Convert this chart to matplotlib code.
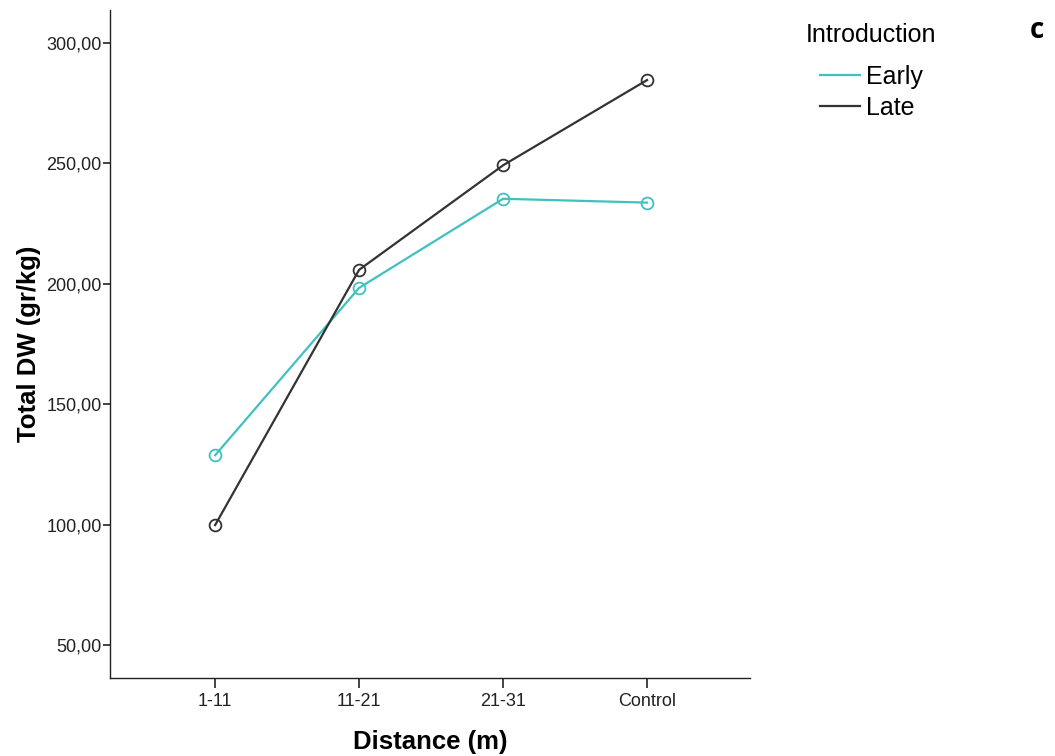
import matplotlib.pyplot as plt

plt.rcParams['font.family'] = ['Liberation Sans', 'DejaVu Sans']

# data
distance = ['1-11', '11-21', '21-31', 'Control']
early = [128.8, 198.3, 235.3, 233.7]
late = [99.8, 205.8, 249.2, 284.6]
y_ticks = [50, 100, 150, 200, 250, 300]

teal = '#40c0c0'
dark = '#333333'

fig = plt.figure(figsize=(10.55, 7.56), dpi=100)
ax = fig.add_axes([0.1043, 0.1032, 0.6066, 0.8836])

x = list(range(len(distance)))
ax.plot(x, early, '-o', color=teal, lw=1.6, ms=8.5, mfc='none', mew=1.3, label='Early')
ax.plot(x, late, '-o', color=dark, lw=1.6, ms=8.5, mfc='none', mew=1.3, label='Late')

ax.set_xlim(-0.73, 3.715)
ax.set_ylim(36.3, 313.7)
ax.set_xticks(x)
ax.set_xticklabels(distance)
ax.set_yticks(y_ticks)
ax.set_yticklabels(['%d,00' % v for v in y_ticks])

for s in ['top', 'right']:
    ax.spines[s].set_visible(False)
for s in ['left', 'bottom']:
    ax.spines[s].set_color('#222222')
    ax.spines[s].set_linewidth(1.0)
ax.tick_params(axis='y', length=5, width=1.2, labelsize=13, pad=1, colors='#222222')
ax.tick_params(axis='x', length=7, width=1.2, labelsize=13, pad=4, colors='#222222')

ax.set_xlabel('Distance (m)', fontsize=18.5, fontweight='bold', labelpad=14)
ax.set_ylabel('Total DW (gr/kg)', fontsize=18.5, fontweight='bold', labelpad=4)

# legend: title as separate text so the entries sit indented under it
fig.text(806 / 1055, 1 - 35 / 756, 'Introduction', fontsize=18, va='center')
leg = fig.legend(loc='upper left', bbox_to_anchor=(0.756, 0.944),
                 fontsize=18, frameon=False, handlelength=1.6,
                 handletextpad=0.25, labelspacing=0.27)
for h in leg.get_lines():
    h.set_marker('')

fig.text(1037 / 1055, 1 - 30 / 756, 'c', fontsize=20, fontweight='bold', ha='center', va='center',
         family=['Open Sans', 'DejaVu Sans'])

fig.savefig('out.png', dpi=100)
